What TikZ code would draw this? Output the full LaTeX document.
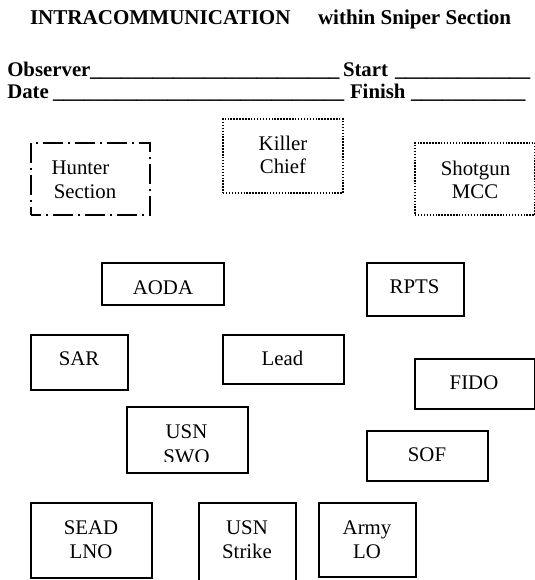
\documentclass[tikz,border=0pt]{standalone}
\usepackage{fontspec}
\setmainfont{Liberation Serif}
\begin{document}
\begin{tikzpicture}[x=0.75pt,y=-0.75pt,
  every node/.style={font=\fontsize{15.6}{18}\selectfont, inner sep=0pt, outer sep=0pt},
  head/.style={font=\fontsize{15.6}{18}\selectfont\bfseries, anchor=base west},
  titletext/.style={font=\fontsize{15.8}{18}\selectfont\bfseries, anchor=base west},
  lbl/.style={anchor=base},
  frame/.style 2 args={rectangle, minimum width=#1*0.75pt, minimum height=#2*0.75pt},
  sbox/.style 2 args={frame={#1}{#2}, draw, line width=1pt},
  dotbox/.style 2 args={frame={#1}{#2}, draw, line width=1.2pt, dash pattern=on 1.1pt off 1.1pt},
  dashdotbox/.style 2 args={frame={#1}{#2}, draw, line width=1.5pt,
    dash pattern=on 15pt off 3.75pt on 1.5pt off 3.75pt, dash phase=7.5pt}]
\useasboundingbox (0,0) rectangle (534,580);

% heading
\node[titletext] (title1) at (30,25) {INTRACOMMUNICATION};
\node[titletext] (title2) at (318,25) {within Sniper Section};

% form fields
\node[head] (obs)    at (7.3,76.7) {Observer};
\node[head] (obsln)  at (90,76.7)  {\_\_\_\_\_\_\_\_\_\_\_\_\_\_\_\_\_\_\_\_\_\_\_\_};
\node[head] (start)  at (343,76.7) {Start};
\node[head] (stln)   at (395,76.7) {\_\_\_\_\_\_\_\_\_\_\_\_\_};
\node[head] (date)   at (7.3,99)   {Date};
\node[head] (dateln) at (53,99)    {\_\_\_\_\_\_\_\_\_\_\_\_\_\_\_\_\_\_\_\_\_\_\_\_\_\_\_\_};
\node[head] (fin)    at (350,99)   {Finish};
\node[head] (finln)  at (411,99)   {\_\_\_\_\_\_\_\_\_\_\_};

% outside stations
\node[dashdotbox={119}{72}] (hunter) at (90.5,179) {};
\node[lbl] (hunter1) at (80.5,175) {Hunter};
\node[lbl] (hunter2) at (85,199) {Section};

\node[dotbox={120}{74}] (killer) at (283,156) {};
\node[lbl] (killer1) at (283,151) {Killer};
\node[lbl] (killer2) at (283,174) {Chief};

\node[dotbox={120}{72}] (shotgun) at (475,179) {};
\node[lbl] (shotgun1) at (475.5,176) {Shotgun};
\node[lbl] (shotgun2) at (475,199) {MCC};

% section stations
\node[sbox={122}{42}] (aoda) at (163,284) {};
\node[lbl] (aoda1) at (163,294) {AODA};

\node[sbox={97}{53}] (rpts) at (415.5,289.5) {};
\node[lbl] (rpts1) at (414.5,293) {RPTS};

\node[sbox={97}{55}] (sar) at (79.5,362.5) {};
\node[lbl] (sar1) at (79,365) {SAR};

\node[sbox={121}{49}] (lead) at (283.5,359.5) {};
\node[lbl] (lead1) at (282.5,365) {Lead};

\node[sbox={120}{50}] (fido) at (475,384) {};
\node[lbl] (fido1) at (474,389) {FIDO};

\node[sbox={121}{66}] (swo) at (187.5,440) {};
\node[lbl] (swo1) at (186.5,438.3) {USN};
\begin{scope}
  \clip (125,440) rectangle (250,461.7);
  \node[lbl] (swo2) at (186.5,463.3) {SWO};
\end{scope}

\node[sbox={121}{50}] (sof) at (427.5,456) {};
\node[lbl] (sof1) at (427,461.7) {SOF};

\node[sbox={121}{75}] (sead) at (91.5,540.5) {};
\node[lbl] (sead1) at (91,534) {SEAD};
\node[lbl] (sead2) at (91,558) {LNO};

\node[sbox={97}{97}] (strike) at (247.5,551.5) {};
\node[lbl] (strike1) at (247,534) {USN};
\node[lbl] (strike2) at (247,558) {Strike};

\node[sbox={97}{74}] (army) at (367.5,540) {};
\node[lbl] (army1) at (367,534) {Army};
\node[lbl] (army2) at (367,558) {LO};
\end{tikzpicture}
\end{document}
